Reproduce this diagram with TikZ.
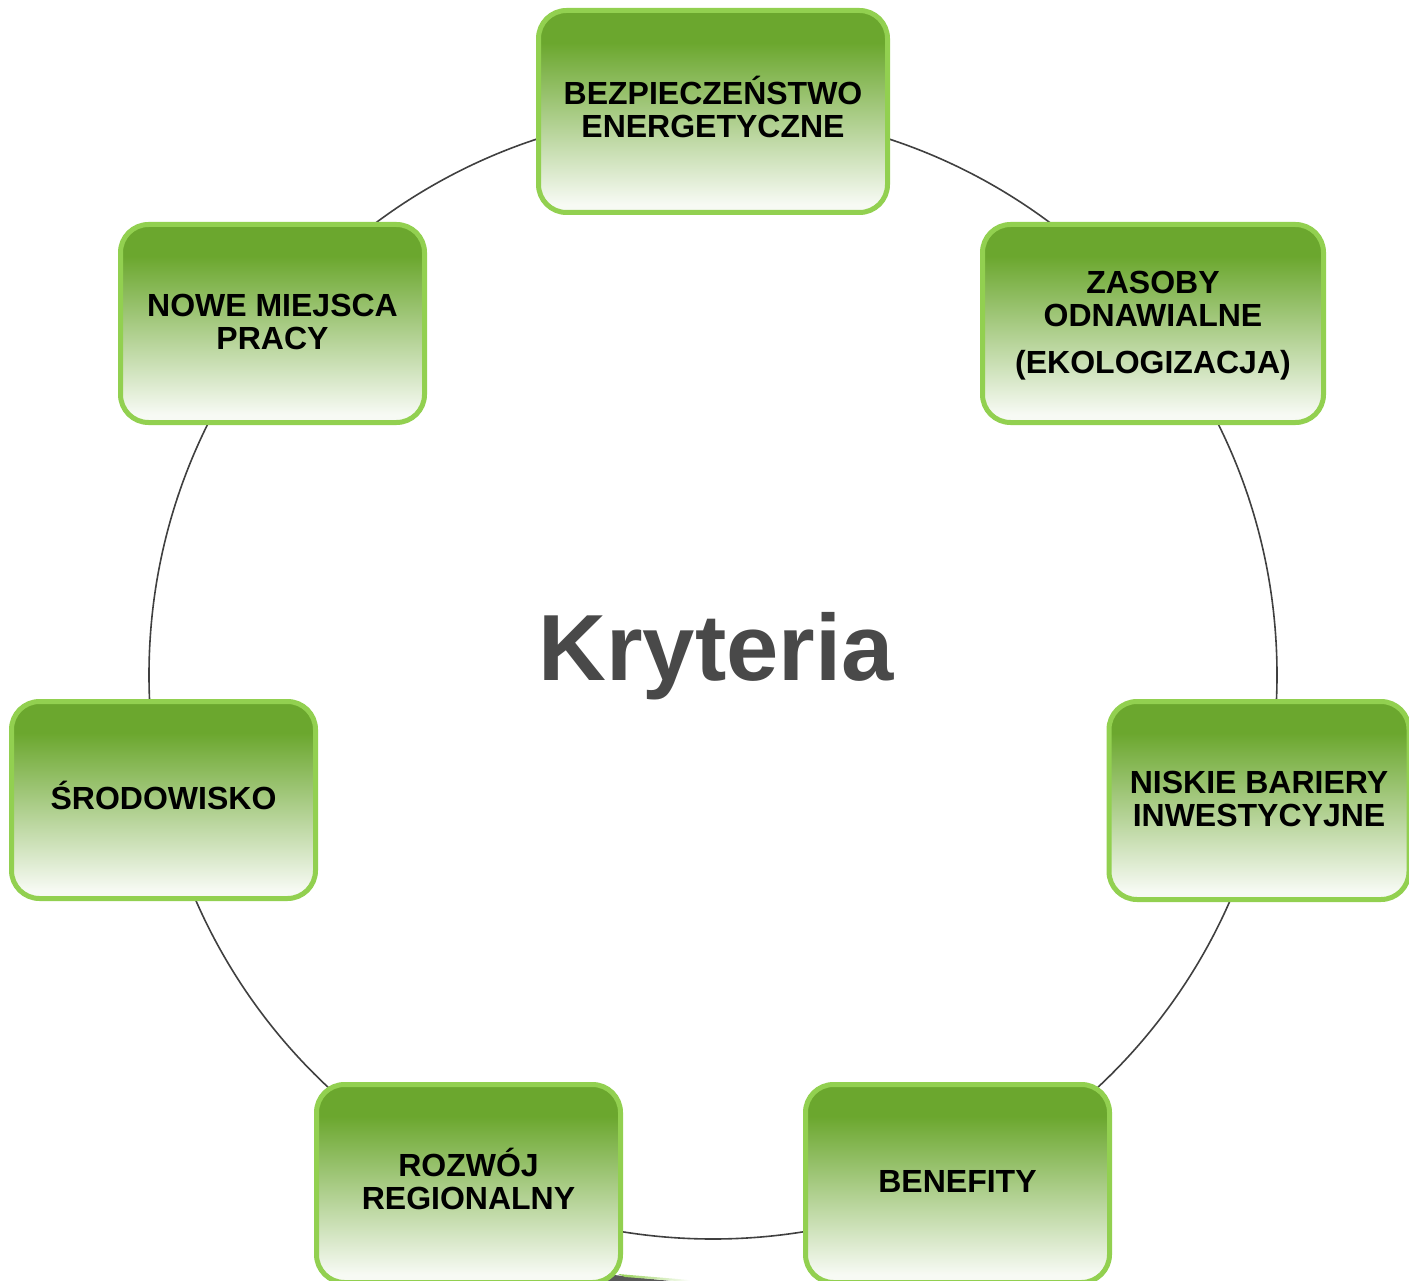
\documentclass[tikz,border=0pt]{standalone}
\usepackage{fontspec}
\setmainfont{Liberation Sans}
\definecolor{gtop}{RGB}{107,167,46}
\definecolor{gbot}{RGB}{247,250,244}
\definecolor{bordergreen}{RGB}{146,208,80}
\definecolor{ringgray}{RGB}{64,64,64}
\definecolor{titlegray}{RGB}{73,73,73}
\pgfdeclareverticalshading{boxshade}{100bp}{color(0bp)=(gbot); color(27bp)=(gbot); color(67bp)=(gtop); color(100bp)=(gtop)}
\tikzset{
  critbox/.style={rectangle, rounded corners=28pt, draw=bordergreen, line width=5pt,
    shade, shading=boxshade, align=center, inner sep=0pt,
    font=\bfseries\fontsize{32}{33}\selectfont, text=black,
    text depth=0pt, text height=19.9pt,
    minimum width=304pt, minimum height=197pt},
  twolines/.style={text height=52.9pt},
  ring/.style={draw=ringgray, line width=1.6pt},
  title/.style={font=\bfseries\fontsize{94}{100}\selectfont, text=titlegray, inner sep=0pt}
}
\begin{document}
\begin{tikzpicture}[x=1pt,y=-1pt]
\useasboundingbox (0,0) rectangle (1409,1281);
\coordinate (c) at (713,675);
\draw[ring] (c) circle[radius=564pt];
% partially visible shape at bottom edge
\fill[gray!70!black] (603,1282) -- (614,1275) -- (680,1282) -- cycle;
\shade[left color=bordergreen, right color=white] (618,1274) -- (690,1280) -- (690,1282) -- (625,1277) -- cycle;
\node[critbox, twolines, minimum width=349pt, minimum height=202pt] (bez) at (713,111.5) {BEZPIECZEŃSTWO\\ENERGETYCZNE};
\node[critbox, text height=100.9pt, minimum width=341pt, minimum height=198pt] (zas) at (1153,323.5) {ZASOBY\\ODNAWIALNE\\[14pt](EKOLOGIZACJA)};
\node[critbox, twolines, minimum width=300pt, minimum height=198pt] (nis) at (1259,800.5) {NISKIE BARIERY\\INWESTYCYJNE};
\node[critbox, text height=17.9pt, minimum height=198pt] (ben) at (957.5,1183.5) {BENEFITY};
\node[critbox, twolines, minimum height=198pt] (roz) at (468.5,1183.5) {ROZWÓJ\\REGIONALNY};
\node[critbox] (sro) at (163.5,800) {ŚRODOWISKO};
\node[critbox, twolines, minimum height=198pt] (now) at (272.5,323.5) {NOWE MIEJSCA\\PRACY};
\node[title, anchor=base] (kry) at (716,680) {Kryteria};
\end{tikzpicture}
\end{document}
